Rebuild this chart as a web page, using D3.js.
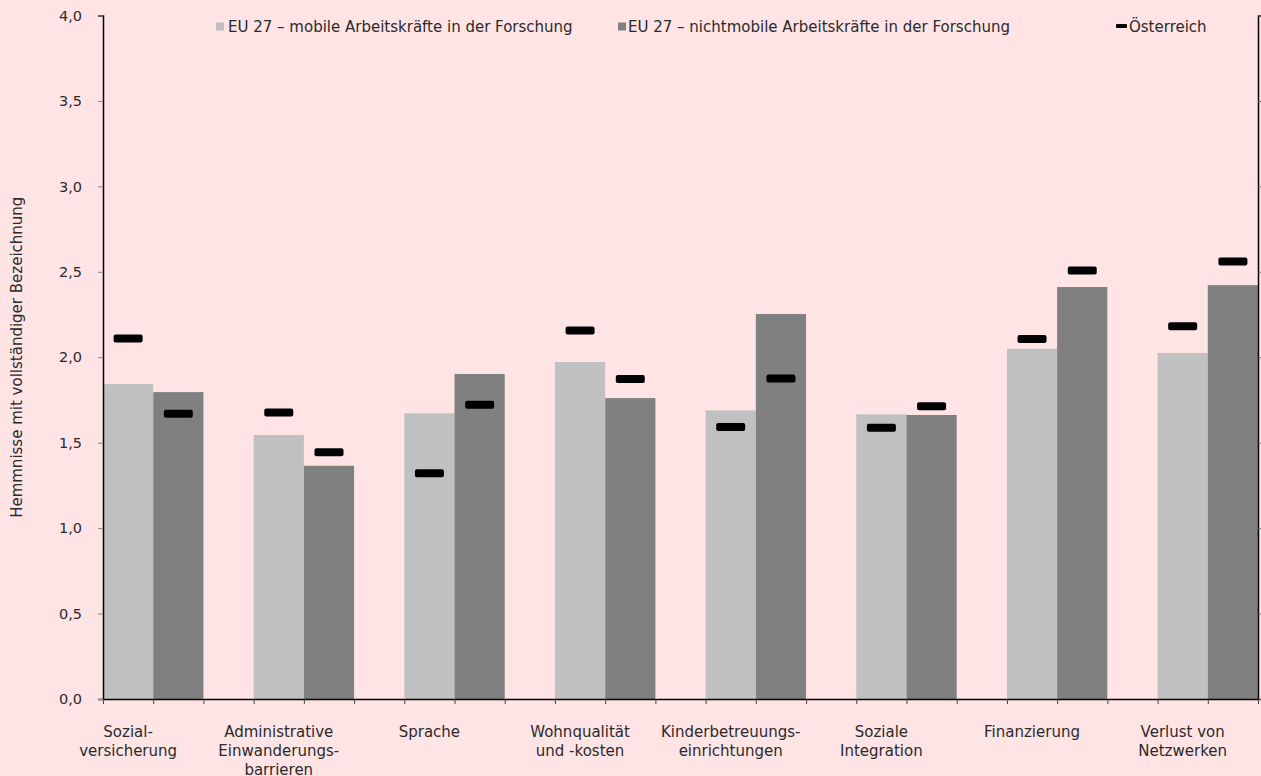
<!DOCTYPE html>
<html lang="de">
<head>
<meta charset="utf-8">
<script src="https://cdn.jsdelivr.net/npm/d3@7"></script>
<style>
  html, body { margin: 0; padding: 0; background: #FFE4E6; }
  svg { display: block; font-family: "DejaVu Sans", sans-serif; }
</style>
</head>
<body>
<svg id="chart" width="1261" height="776"></svg>
<script>
// Hemmnisse der Mobilität von Forschenden: EU 27 vs. Österreich
const categories = [
  ["Sozial-", "versicherung"],
  ["Administrative", "Einwanderungs-", "barrieren"],
  ["Sprache"],
  ["Wohnqualität", "und -kosten"],
  ["Kinderbetreuungs-", "einrichtungen"],
  ["Soziale", "Integration"],
  ["Finanzierung"],
  ["Verlust von", "Netzwerken"]
];
const euMobile    = [1.843, 1.545, 1.672, 1.972, 1.689, 1.666, 2.050, 2.025];
const euNonMobile = [1.796, 1.365, 1.902, 1.761, 2.253, 1.662, 2.411, 2.422];
const atMobile    = [2.110, 1.677, 1.321, 2.157, 1.592, 1.588, 2.107, 2.181];
const atNonMobile = [1.670, 1.444, 1.722, 1.872, 1.876, 1.713, 2.508, 2.561];
const yTicks = [0, 0.5, 1, 1.5, 2, 2.5, 3, 3.5, 4];
const legendLabels = [
  "EU 27 – mobile Arbeitskräfte in der Forschung",
  "EU 27 – nichtmobile Arbeitskräfte in der Forschung",
  "Österreich"
];
const yTitle = "Hemmnisse mit vollständiger Bezeichnung";

const colMobile = "#C0C0C0", colNonMobile = "#808080";
const textCol = "#2a2a2a";
const de = d3.formatLocale({ decimal: ",", thousands: ".", grouping: [3], currency: ["", " €"] });
const fmt = de.format(".1f");

const svg = d3.select("#chart");
const plotLeft = 103, plotTop = 15.5, plotBottom = 699;
const slot = (1258 - plotLeft) / 23;           // one bar width; 3 slots per category
const plotRight = plotLeft + 23 * slot;        // visible end of the plot area

const keys = categories.map((c, i) => i);
const x = d3.scaleBand().domain(keys).range([plotLeft, plotLeft + 24 * slot]).padding(0);
const xSub = d3.scaleBand().domain(["mobil", "nichtmobil"]).range([0, 2 * slot]).padding(0);
const y = d3.scaleLinear().domain([0, 4]).range([plotBottom, plotTop]);

// bars
const g = svg.append("g");
const groups = g.selectAll("g.cat").data(keys).join("g")
  .attr("class", "cat")
  .attr("transform", i => `translate(${x(i)},0)`);

groups.append("rect")
  .attr("x", xSub("mobil")).attr("width", xSub.bandwidth())
  .attr("y", i => y(euMobile[i])).attr("height", i => y(0) - y(euMobile[i]))
  .attr("fill", colMobile);
groups.append("rect")
  .attr("x", xSub("nichtmobil")).attr("width", xSub.bandwidth())
  .attr("y", i => y(euNonMobile[i])).attr("height", i => y(0) - y(euNonMobile[i]))
  .attr("fill", colNonMobile);

// Österreich markers
const mw = 29, mh = 8;
groups.append("rect")
  .attr("x", xSub("mobil") + xSub.bandwidth() / 2 - mw / 2).attr("width", mw)
  .attr("y", i => y(atMobile[i]) - mh / 2).attr("height", mh)
  .attr("rx", 2).attr("fill", "#000");
groups.append("rect")
  .attr("x", xSub("nichtmobil") + xSub.bandwidth() / 2 - mw / 2).attr("width", mw)
  .attr("y", i => y(atNonMobile[i]) - mh / 2).attr("height", mh)
  .attr("rx", 2).attr("fill", "#000");

// left y axis
const yAxis = svg.append("g").attr("transform", `translate(${plotLeft},0)`)
  .call(d3.axisLeft(y).tickValues(yTicks).tickFormat(fmt).tickSize(5).tickPadding(16));
yAxis.select(".domain").attr("stroke", "#000").attr("stroke-width", 1.5);
yAxis.selectAll(".tick line").attr("stroke", "#888");
yAxis.selectAll(".tick text").attr("font-size", 14.5).attr("fill", textCol)
  .attr("font-family", "DejaVu Sans, sans-serif");

// right y axis
const yAxisR = svg.append("g").attr("transform", `translate(${plotRight},0)`)
  .call(d3.axisRight(y).tickValues(yTicks).tickFormat("").tickSize(5));
yAxisR.select(".domain").attr("stroke", "#000").attr("stroke-width", 1.5);
yAxisR.selectAll(".tick line").attr("stroke", "#666");

// x axis with a tick at every bar edge
const xLin = d3.scaleLinear().domain([0, 23]).range([plotLeft, plotRight]);
const xAxis = svg.append("g").attr("transform", `translate(0,${plotBottom})`)
  .call(d3.axisBottom(xLin).tickValues(d3.range(0, 24)).tickFormat("").tickSize(5).tickSizeOuter(0));
xAxis.select(".domain").attr("stroke", "#000").attr("stroke-width", 1.5);
xAxis.selectAll(".tick line").attr("stroke", "#444");

// category labels, centred under the mobile bar
const lab = svg.append("g");
categories.forEach((lines, i) => {
  const cx = x(i) + xSub("mobil") + xSub.bandwidth() / 2;
  const t = lab.append("text").attr("text-anchor", "middle")
    .attr("font-size", 15).attr("fill", textCol);
  lines.forEach((s, k) => t.append("tspan").attr("x", cx).attr("y", 737 + k * 19).text(s));
});

// y axis title
svg.append("text")
  .attr("transform", `translate(22,${(plotTop + plotBottom) / 2}) rotate(-90)`)
  .attr("text-anchor", "middle").attr("font-size", 15).attr("fill", textCol)
  .text(yTitle);

// legend
const leg = svg.append("g").attr("font-size", 15).attr("fill", textCol);
leg.append("rect").attr("x", 216).attr("y", 22.5).attr("width", 8).attr("height", 8).attr("fill", colMobile);
leg.append("text").attr("x", 228).attr("y", 32).text(legendLabels[0]);
leg.append("rect").attr("x", 618).attr("y", 22.5).attr("width", 8).attr("height", 8).attr("fill", colNonMobile);
leg.append("text").attr("x", 628).attr("y", 32).text(legendLabels[1]);
leg.append("rect").attr("x", 1116).attr("y", 24).attr("width", 11).attr("height", 4).attr("rx", 1).attr("fill", "#000");
leg.append("text").attr("x", 1129).attr("y", 32).text(legendLabels[2]);
</script>
</body>
</html>
